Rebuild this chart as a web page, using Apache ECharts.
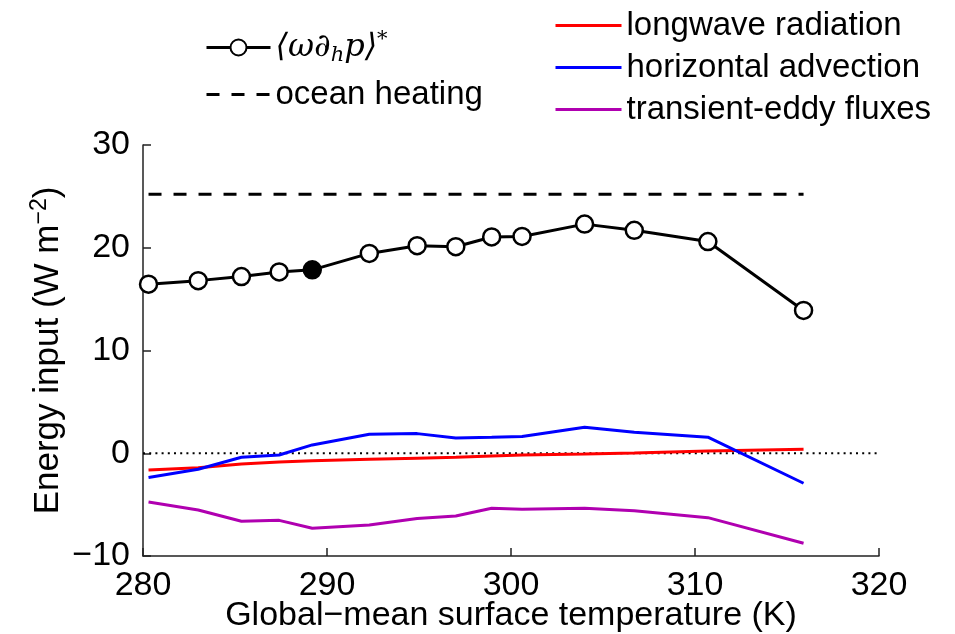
<!DOCTYPE html>
<html>
<head>
<meta charset="utf-8">
<script src="https://cdn.jsdelivr.net/npm/echarts@6/dist/echarts.min.js"></script>
<style>
  html, body { margin: 0; padding: 0; background: #fff; }
  #chart { width: 955px; height: 634px; }
</style>
</head>
<body>
<div id="chart"></div>
<script>
// global-mean surface temperature (K) of each simulation
var temps = [280.3, 283.0, 285.35, 287.4, 289.2, 292.3, 294.9, 297.0, 298.95, 300.6, 304.0, 306.7, 310.7, 315.9];
var omegaDp = [16.45, 16.8, 17.2, 17.65, 17.85, 19.45, 20.2, 20.1, 21.05, 21.1, 22.3, 21.7, 20.6, 13.9];
var filledIndex = 4;
var oceanHeating = 25.2;
var longwave = [-1.63, -1.4, -1.04, -0.85, -0.72, -0.59, -0.48, -0.39, -0.27, -0.17, -0.07, 0.03, 0.22, 0.39];
var horizAdv = [-2.37, -1.56, -0.39, -0.17, 0.81, 1.85, 1.91, 1.49, 1.55, 1.62, 2.53, 2.04, 1.56, -2.92];
var eddyFlux = [-4.74, -5.52, -6.62, -6.53, -7.3, -6.98, -6.36, -6.1, -5.36, -5.45, -5.36, -5.6, -6.27, -8.76];
var xTicks = [280, 290, 300, 310, 320];
var yTicks = [-10, 0, 10, 20, 30];

var names = {
  omega: '<omega>',
  ocean: 'ocean heating',
  lw: 'longwave radiation',
  adv: 'horizontal advection',
  eddy: 'transient-eddy fluxes'
};

function pairs(ys) {
  var out = [];
  for (var i = 0; i < temps.length; i++) out.push([temps[i], ys[i]]);
  return out;
}

var omegaData = [];
for (var i = 0; i < temps.length; i++) {
  var item = { value: [temps[i], omegaDp[i]] };
  if (i === filledIndex) item.itemStyle = { color: '#000' };
  omegaData.push(item);
}

var font = '"Liberation Sans", Arial, sans-serif';
var mathFont = '"DejaVu Serif", serif';
var noSymbol = { opacity: 0 };

var chart = echarts.init(document.getElementById('chart'));

chart.setOption({
  animation: false,
  textStyle: { fontFamily: font },
  grid: { left: 143, right: 76, top: 145, bottom: 78, outerBoundsMode: 'none' },
  legend: [
    {
      data: [names.omega],
      left: 200,
      top: 24,
      itemWidth: 64,
      itemHeight: 20,
      selectedMode: false,
      lineStyle: { width: 3 },
      formatter: function () {
        return '{m|⟨ω∂}{s|h}{m|p⟩}{u|*}';
      },
      textStyle: {
        color: '#000',
        rich: {
          m: { fontSize: 32, fontStyle: 'italic', fontFamily: mathFont, color: '#000', lineHeight: 36 },
          s: { fontSize: 21, fontStyle: 'italic', fontFamily: mathFont, color: '#000', padding: [16, 0, 0, 0] },
          u: { fontSize: 21, fontFamily: mathFont, color: '#000', padding: [0, 0, 16, 0] }
        }
      }
    },
    {
      data: [{ name: names.ocean, itemStyle: noSymbol }],
      left: 200,
      top: 73,
      itemWidth: 64,
      itemHeight: 20,
      selectedMode: false,
      lineStyle: { width: 3 },
      textStyle: { fontSize: 33, color: '#000', fontFamily: font }
    },
    {
      data: [
        { name: names.lw, itemStyle: noSymbol },
        { name: names.adv, itemStyle: noSymbol },
        { name: names.eddy, itemStyle: noSymbol }
      ],
      orient: 'vertical',
      left: 549,
      top: 4,
      itemWidth: 66,
      itemHeight: 16,
      itemGap: 9,
      selectedMode: false,
      lineStyle: { width: 3 },
      textStyle: { fontSize: 33, color: '#000', fontFamily: font }
    }
  ],
  xAxis: {
    type: 'value',
    min: xTicks[0],
    max: xTicks[xTicks.length - 1],
    interval: 10,
    name: 'Global\u2212mean surface temperature (K)',
    nameLocation: 'middle',
    nameGap: 43,
    nameMoveOverlap: false,
    nameTextStyle: { fontSize: 34, color: '#000', fontFamily: font },
    axisLine: { onZero: false, lineStyle: { color: '#222', width: 1.5 } },
    axisTick: { inside: true, length: 8, lineStyle: { color: '#222', width: 1.5 } },
    axisLabel: { fontSize: 34, color: '#000', margin: 13, fontFamily: font },
    splitLine: { show: false }
  },
  yAxis: {
    type: 'value',
    min: yTicks[0],
    max: yTicks[yTicks.length - 1],
    interval: 10,
    name: '{t|Energy input (W m}{p|\u22122}{t|)}',
    nameLocation: 'middle',
    nameGap: 75,
    nameMoveOverlap: false,
    nameTextStyle: {
      rich: {
        t: { fontSize: 35, color: '#000', fontFamily: font },
        p: { fontSize: 23, color: '#000', fontFamily: font, padding: [0, 0, 17, 0] }
      }
    },
    axisLine: { lineStyle: { color: '#222', width: 1.5 } },
    axisTick: { inside: true, length: 8, lineStyle: { color: '#222', width: 1.5 } },
    axisLabel: {
      fontSize: 34,
      color: '#000',
      margin: 13,
      fontFamily: font,
      formatter: function (v) { return String(v).replace('-', '\u2212'); }
    },
    splitLine: { show: false }
  },
  series: [
    {
      name: 'zero',
      type: 'line',
      data: [[xTicks[0], 0], [xTicks[xTicks.length - 1], 0]],
      symbol: 'none',
      silent: true,
      lineStyle: { color: '#000', width: 2, type: [2, 4.2] },
      z: 1
    },
    {
      name: names.lw,
      type: 'line',
      data: pairs(longwave),
      symbol: 'none',
      color: '#ff0000',
      lineStyle: { color: '#ff0000', width: 3 }
    },
    {
      name: names.adv,
      type: 'line',
      data: pairs(horizAdv),
      symbol: 'none',
      color: '#0000ff',
      lineStyle: { color: '#0000ff', width: 3 }
    },
    {
      name: names.eddy,
      type: 'line',
      data: pairs(eddyFlux),
      symbol: 'none',
      color: '#b000b0',
      lineStyle: { color: '#b000b0', width: 3 }
    },
    {
      name: names.ocean,
      type: 'line',
      data: [[temps[0], oceanHeating], [temps[temps.length - 1], oceanHeating]],
      symbol: 'none',
      color: '#000',
      lineStyle: { color: '#000', width: 3, type: [13, 12] }
    },
    {
      name: names.omega,
      type: 'line',
      data: omegaData,
      symbol: 'circle',
      symbolSize: 17,
      color: '#000',
      itemStyle: { color: '#fff', borderColor: '#000', borderWidth: 2.5 },
      lineStyle: { color: '#000', width: 3 },
      z: 5
    }
  ]
});
</script>
</body>
</html>
